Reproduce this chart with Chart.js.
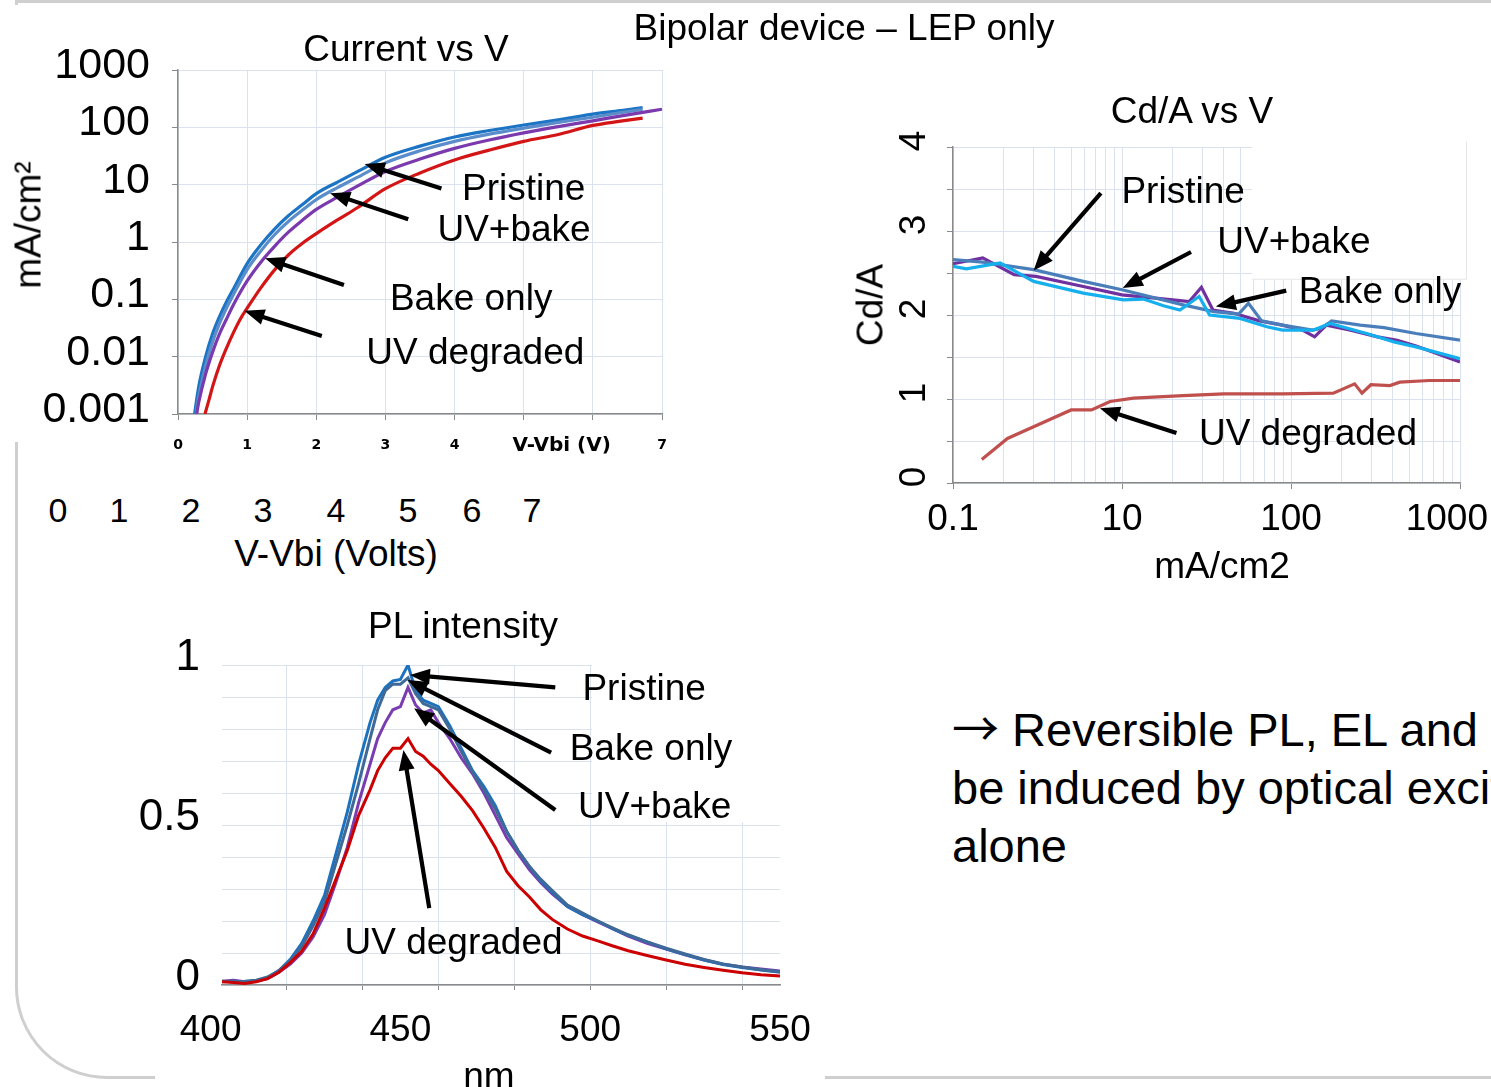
<!DOCTYPE html>
<html>
<head>
<meta charset="utf-8">
<title>Bipolar device – LEP only</title>
<script src="https://cdn.jsdelivr.net/npm/chart.js@4/dist/chart.umd.min.js"></script>
<style>
  html, body { margin: 0; padding: 0; background: #fff; }
  body { width: 1491px; height: 1087px; position: relative; overflow: hidden;
         font-family: 'Liberation Sans', Arial, sans-serif; color: #000; }
  .frame { position: absolute; left: 15px; top: 0; width: 1600px; height: 1073px;
           border: 3px solid #cfcfcf; border-radius: 0 0 0 92px; }
  .panel { position: absolute; background: #fff; }
  canvas { position: absolute; }
  .t { position: absolute; white-space: nowrap; line-height: 1; transform: translate(-50%, -50%); font-size: 37px; }
  .rot { transform: translate(-50%, -50%) rotate(-90deg); }
  .note { position: absolute; left: 952px; top: 697px; font-size: 47px; line-height: 58px; white-space: nowrap; }
  .note .arw { font-family: 'Noto Sans CJK JP', 'DejaVu Sans', sans-serif; }
</style>
</head>
<body>
<div class="frame"></div>
<div class="panel" style="left:0;top:5px;width:110px;height:437px"></div>
<div class="panel" style="left:155px;top:598px;width:670px;height:489px"></div>

<canvas id="ivChart" width="700" height="470" style="left:0;top:0"></canvas>
<canvas id="cdChart" width="651" height="470" style="left:840px;top:80px"></canvas>
<canvas id="plChart" width="705" height="487" style="left:120px;top:600px"></canvas>

<div class="t" style="left:844px;top:27px">Bipolar device – LEP only</div>

<div class="t" style="left:406px;top:48px">Current vs V</div>
<div class="t rot" style="left:28px;top:225px">mA/cm²</div>
<div id="voltsRow"></div>
<div class="t" style="left:336px;top:553px">V-Vbi (Volts)</div>

<div class="t" style="left:1192px;top:110px">Cd/A vs V</div>
<div class="t rot" style="left:870px;top:305px">Cd/A</div>
<div class="t" style="left:1222px;top:565px">mA/cm2</div>

<div class="t" style="left:463px;top:625px">PL intensity</div>
<div class="t" style="left:489px;top:1075px">nm</div>

<div class="note"><span class="arw">→</span> Reversible PL, EL and<br>be induced by optical excitation<br>alone</div>

<script>
// ---------- Current density vs V-Vbi (log scale) ----------
const ivPristineV = [0.24, 0.3, 0.4, 0.5, 0.6, 0.7, 0.8, 1.0, 1.2, 1.4, 1.6, 1.8, 2.0, 2.3, 2.6, 3.0, 3.5, 4.0, 4.5, 5.0, 5.5, 6.0, 6.4, 6.72];
const ivPristineJ = [0.001, 0.003, 0.01, 0.025, 0.05, 0.09, 0.15, 0.42, 0.9, 1.7, 2.9, 4.5, 7, 11, 17, 30, 47, 68, 88, 110, 135, 170, 195, 222];
const ivUvBakeV = [0.26, 0.3, 0.4, 0.5, 0.6, 0.7, 0.8, 1.0, 1.2, 1.4, 1.6, 1.8, 2.0, 2.3, 2.6, 3.0, 3.5, 4.0, 4.5, 5.0, 5.5, 6.0, 6.4, 6.72];
const ivUvBakeJ = [0.001, 0.002, 0.007, 0.018, 0.038, 0.07, 0.12, 0.33, 0.7, 1.35, 2.3, 3.6, 5.5, 8.8, 13.5, 24, 39, 57, 76, 97, 122, 150, 180, 205];
const ivBakeOnlyV = [0.27, 0.3, 0.4, 0.5, 0.6, 0.7, 0.8, 1.0, 1.2, 1.4, 1.6, 1.8, 2.0, 2.3, 2.6, 3.0, 3.5, 4.0, 4.5, 5.0, 5.5, 6.0, 6.5, 7.0];
const ivBakeOnlyJ = [0.001, 0.0016, 0.005, 0.012, 0.025, 0.045, 0.08, 0.21, 0.45, 0.85, 1.5, 2.4, 3.7, 6, 9.5, 17, 28, 43, 60, 80, 103, 130, 165, 207];
const ivUvDegradedV = [0.39, 0.45, 0.5, 0.6, 0.7, 0.8, 0.9, 1.0, 1.2, 1.4, 1.6, 1.8, 2.0, 2.3, 2.6, 3.0, 3.5, 4.0, 4.5, 5.0, 5.5, 6.0, 6.4, 6.72];
const ivUvDegradedJ = [0.001, 0.0018, 0.003, 0.007, 0.014, 0.026, 0.045, 0.07, 0.16, 0.33, 0.6, 0.95, 1.4, 2.4, 4, 8.5, 16, 27, 40, 57, 75, 108, 128, 145];
const ivDecades = [0.001, 0.01, 0.1, 1, 10, 100, 1000];
const ivDecadeLabels = ['0.001', '0.01', '0.1', '1', '10', '100', '1000'];
const ivXTickLabels = ['0', '1', '2', '3', '4', '', '', '7'];
const voltsRowLabels = ['0', '1', '2', '3', '4', '5', '6', '7'];

// ---------- Luminous efficiency vs current density ----------
const cdPristineJ = [1, 1.5, 3.0, 5.9, 10, 23, 35, 49, 56, 67, 89, 134, 150, 174, 257, 355, 550, 1000];
const cdPristineE = [2.66, 2.63, 2.54, 2.40, 2.30, 2.12, 2.04, 2.01, 2.14, 1.93, 1.88, 1.82, 1.84, 1.93, 1.88, 1.85, 1.78, 1.70];
const cdUvBakeJ = [1, 1.2, 1.9, 3.0, 5.9, 10.2, 13.4, 17.6, 22, 28.6, 33, 50, 72, 89, 135, 170, 280, 407, 550, 1000];
const cdUvBakeE = [2.58, 2.55, 2.62, 2.40, 2.26, 2.18, 2.19, 2.11, 2.06, 2.22, 2.00, 1.96, 1.86, 1.82, 1.82, 1.90, 1.78, 1.68, 1.62, 1.48];
const cdBakeOnlyJ = [1, 1.5, 2.3, 3.1, 5.9, 10, 20, 25, 29.5, 34.5, 46, 65, 89, 117, 138, 162, 225, 325, 425, 550, 1000];
const cdBakeOnlyE = [2.61, 2.68, 2.48, 2.46, 2.34, 2.24, 2.18, 2.16, 2.33, 2.06, 2.02, 1.93, 1.88, 1.82, 1.74, 1.88, 1.82, 1.74, 1.70, 1.63, 1.44];
const cdUvDegradedJ = [1.48, 2.1, 3.0, 5.0, 6.6, 8.5, 11.7, 23, 40, 89, 178, 238, 263, 297, 385, 440, 660, 1000];
const cdUvDegradedE = [0.28, 0.53, 0.67, 0.87, 0.87, 0.97, 1.01, 1.04, 1.06, 1.06, 1.07, 1.18, 1.07, 1.17, 1.16, 1.20, 1.22, 1.22];
const cdXTickValues = [1, 10, 100, 1000];
const cdXTickLabels = ['0.1', '10', '100', '1000'];
const cdYTickValues = [0, 1, 2, 3, 4];
const cdYTickLabels = ['0', '1', '2', '3', '4'];

// ---------- Photoluminescence spectra ----------
const plWavelength = [403, 406, 409, 412, 415, 418, 421, 424, 427, 430, 433, 436, 439, 442, 444, 446, 448, 450, 452, 454, 456, 458, 460, 463, 466, 469, 472, 475, 478, 481, 484, 487, 490, 494, 498, 502, 506, 510, 515, 520, 525, 530, 535, 540, 545, 550];
const plPristine = [0.01, 0.012, 0.01, 0.013, 0.022, 0.045, 0.08, 0.13, 0.2, 0.28, 0.41, 0.54, 0.69, 0.82, 0.89, 0.93, 0.95, 0.955, 1.0, 0.92, 0.89, 0.88, 0.87, 0.81, 0.74, 0.67, 0.62, 0.56, 0.48, 0.42, 0.37, 0.325, 0.29, 0.245, 0.22, 0.2, 0.175, 0.155, 0.135, 0.113, 0.095, 0.078, 0.064, 0.055, 0.047, 0.04];
const plBakeOnly = [0.012, 0.01, 0.012, 0.015, 0.025, 0.045, 0.075, 0.12, 0.185, 0.26, 0.38, 0.5, 0.63, 0.77, 0.86, 0.92, 0.94, 0.94, 0.96, 0.91, 0.88, 0.87, 0.86, 0.8, 0.73, 0.665, 0.61, 0.55, 0.48, 0.42, 0.37, 0.33, 0.295, 0.25, 0.225, 0.2, 0.178, 0.157, 0.135, 0.115, 0.097, 0.08, 0.066, 0.056, 0.048, 0.041];
const plUvBake = [0.012, 0.015, 0.01, 0.012, 0.02, 0.04, 0.065, 0.1, 0.15, 0.22, 0.32, 0.43, 0.57, 0.69, 0.77, 0.82, 0.86, 0.87, 0.93, 0.875, 0.85, 0.86, 0.82, 0.77, 0.71, 0.66, 0.6, 0.53, 0.46, 0.41, 0.36, 0.32, 0.285, 0.245, 0.22, 0.197, 0.175, 0.153, 0.13, 0.112, 0.094, 0.078, 0.065, 0.056, 0.05, 0.044];
const plUvDegraded = [0.01, 0.008, 0.005, 0.01, 0.02, 0.04, 0.07, 0.105, 0.16, 0.24, 0.33, 0.42, 0.53, 0.61, 0.67, 0.71, 0.74, 0.74, 0.77, 0.73, 0.715, 0.69, 0.67, 0.63, 0.59, 0.545, 0.49, 0.43, 0.355, 0.31, 0.275, 0.235, 0.205, 0.175, 0.153, 0.138, 0.122, 0.107, 0.092, 0.078, 0.065, 0.055, 0.046, 0.038, 0.032, 0.028];
const plXTickValues = [400, 450, 500, 550];
const plXTickLabels = ['400', '450', '500', '550'];
const plYTickValues = [0, 0.5, 1];
const plYTickLabels = ['0', '0.5', '1'];

// ---------- shared styling ----------
const FONT = "'Liberation Sans', Arial, sans-serif";
const TEXT = `37px ${FONT}`;
const GRID = '#D9E2EE';
const AXIS = '#8A8A8A';
Chart.defaults.font.family = FONT;
Chart.defaults.color = '#000';

// the stray volt numbers printed under the I-V plot
(function () {
  const xs = [58, 119, 191, 263, 336, 408, 472, 532];
  const row = document.getElementById('voltsRow');
  voltsRowLabels.forEach((txt, i) => {
    const d = document.createElement('div');
    d.className = 't';
    d.style.cssText = `left:${xs[i]}px;top:510px;font-size:34px`;
    d.textContent = txt;
    row.appendChild(d);
  });
})();

// fixes the plot rectangle inside a canvas
function frameLayout(W, H, a) {
  return {
    padding: { left: 0, top: a.top, right: W - a.right, bottom: 0 },
    yFit: s => { s.width = a.left; s.paddingTop = 0; s.paddingBottom = 0; },
    xFit: s => { s.height = H - a.bottom; s.paddingLeft = 0; s.paddingRight = 0; }
  };
}

function xy(xs, ys) { return xs.map((x, i) => ({ x, y: ys[i] })); }

function line(label, data, color, width, smooth) {
  return {
    label, data, borderColor: color, backgroundColor: color, borderWidth: width,
    pointRadius: 0, fill: false,
    tension: 0, cubicInterpolationMode: smooth ? 'monotone' : 'default'
  };
}

function drawArrow(ctx, x0, y0, x1, y1) {
  const ang = Math.atan2(y1 - y0, x1 - x0);
  const hl = 20, hw = 8;
  const c = Math.cos(ang), s = Math.sin(ang);
  const bx = x1 - hl * c, by = y1 - hl * s;
  ctx.strokeStyle = '#000';
  ctx.lineWidth = 4.2;
  ctx.beginPath();
  ctx.moveTo(x0, y0);
  ctx.lineTo(bx + 2 * c, by + 2 * s);
  ctx.stroke();
  ctx.fillStyle = '#000';
  ctx.beginPath();
  ctx.moveTo(x1, y1);
  ctx.lineTo(bx - hw * s, by + hw * c);
  ctx.lineTo(bx + hw * s, by - hw * c);
  ctx.closePath();
  ctx.fill();
}

// callout arrows, series names, hand-placed axis numbers and text-box backgrounds
const notes = {
  id: 'notes',
  beforeDatasetsDraw(chart, args, o) {
    const b = o.blank;
    if (!b) return;
    const sx = chart.scales.x, sy = chart.scales.y, ctx = chart.ctx;
    const l = sx.getPixelForValue(b.x0), r = sx.getPixelForValue(b.x1);
    const t = sy.getPixelForValue(b.y1), bt = sy.getPixelForValue(b.y0);
    ctx.save();
    ctx.fillStyle = '#fff';
    ctx.fillRect(l, t, r - l, bt - t);
    if (b.edge) {
      ctx.strokeStyle = b.edge;
      ctx.lineWidth = 1;
      ctx.beginPath();
      ctx.moveTo(r - 0.5, t);
      ctx.lineTo(r - 0.5, bt - 0.5);
      ctx.lineTo(l, bt - 0.5);
      ctx.stroke();
    }
    ctx.restore();
  },
  afterDatasetsDraw(chart, args, o) {
    const ctx = chart.ctx, sx = chart.scales.x, sy = chart.scales.y;
    const X = v => sx.getPixelForValue(v), Y = v => sy.getPixelForValue(v);
    ctx.save();
    (o.arrows || []).forEach(a => drawArrow(ctx, X(a.from[0]), Y(a.from[1]), X(a.to[0]), Y(a.to[1])));
    ctx.fillStyle = '#000';
    ctx.textAlign = 'center';
    ctx.textBaseline = 'middle';
    ctx.font = o.labelFont || TEXT;
    (o.labels || []).forEach(l => ctx.fillText(l.text, X(l.at[0]), Y(l.at[1])));
    (o.xTexts || []).forEach(t => {
      ctx.font = t.font;
      const w = ctx.measureText(t.text).width;
      const x = Math.min(X(t.value), chart.width - 3 - w / 2);
      ctx.fillText(t.text, x, chart.chartArea.bottom + t.below);
    });
    (o.yTexts || []).forEach(t => {
      ctx.save();
      ctx.font = t.font;
      ctx.translate(chart.chartArea.left - t.left, Y(t.value) + t.shift);
      ctx.rotate(-Math.PI / 2);
      ctx.fillText(t.text, 0, 0);
      ctx.restore();
    });
    ctx.restore();
  }
};

const base = {
  responsive: false, animation: false, devicePixelRatio: 1,
  events: [],
  elements: { point: { radius: 0 } }
};

// ---------- Current vs V ----------
const f1 = frameLayout(700, 470, { left: 178, top: 70, right: 662, bottom: 414 });
new Chart(document.getElementById('ivChart'), {
  type: 'line',
  data: {
    datasets: [
      line('UV degraded', xy(ivUvDegradedV, ivUvDegradedJ), '#D41515', 3.2, true),
      line('Bake only', xy(ivBakeOnlyV, ivBakeOnlyJ), '#7A3AAE', 3.2, true),
      line('UV+bake', xy(ivUvBakeV, ivUvBakeJ), '#5B8DCA', 3.2, true),
      line('Pristine', xy(ivPristineV, ivPristineJ), '#1C74C4', 3.2, true)
    ]
  },
  options: {
    ...base,
    layout: { padding: f1.padding },
    plugins: {
      legend: { display: false }, tooltip: { enabled: false },
      notes: {
        arrows: [
          { from: [3.81, 8.6], to: [2.7, 23] },
          { from: [3.33, 2.5], to: [2.2, 7.1] },
          { from: [2.4, 0.178], to: [1.26, 0.52] },
          { from: [2.08, 0.023], to: [0.96, 0.063] }
        ],
        labels: [
          { text: 'Pristine', at: [5.0, 8.07] },
          { text: 'UV+bake', at: [4.86, 1.56] },
          { text: 'Bake only', at: [4.24, 0.0973] },
          { text: 'UV degraded', at: [4.30, 0.0111] }
        ],
        xTexts: [{ text: 'V-Vbi (V)', value: 5.55, below: 32, font: `bold 20px 'DejaVu Sans', sans-serif` }]
      }
    },
    scales: {
      x: {
        type: 'linear', min: 0, max: 7, afterFit: f1.xFit,
        ticks: {
          stepSize: 1, autoSkip: false, maxRotation: 0, padding: 17,
          font: { family: "'DejaVu Sans', sans-serif", weight: 'bold', size: 14 },
          callback: (v, i) => ivXTickLabels[i]
        },
        grid: { color: GRID, tickColor: AXIS, tickLength: 6 },
        border: { color: AXIS, width: 1.5 }
      },
      y: {
        type: 'logarithmic', min: 0.001, max: 1000, afterFit: f1.yFit,
        afterBuildTicks: s => { s.ticks = ivDecades.map(v => ({ value: v })); },
        ticks: { autoSkip: false, padding: 22, labelOffset: -4, font: { size: 43 },
                 callback: (v, i) => ivDecadeLabels[i] },
        grid: { color: GRID, tickColor: AXIS, tickLength: 6 },
        border: { color: AXIS, width: 1.5 }
      }
    }
  },
  plugins: [notes]
});

// ---------- Cd/A vs V ----------
const f2 = frameLayout(651, 470, { left: 113, top: 67, right: 620, bottom: 403 });
const cdGrid = [];
[1, 10, 100].forEach(d => { for (let k = 1; k <= 9; k++) cdGrid.push({ value: k * d, major: k === 1 }); });
cdGrid.push({ value: 1000, major: true });
new Chart(document.getElementById('cdChart'), {
  type: 'line',
  data: {
    datasets: [
      line('UV degraded', xy(cdUvDegradedJ, cdUvDegradedE), '#C0504D', 3.2, false),
      line('UV+bake', xy(cdUvBakeJ, cdUvBakeE), '#14AFEC', 3.2, false),
      line('Pristine', xy(cdPristineJ, cdPristineE), '#4A7EBB', 3.2, false),
      line('Bake only', xy(cdBakeOnlyJ, cdBakeOnlyE), '#7030A0', 3.2, false)
    ]
  },
  options: {
    ...base,
    layout: { padding: f2.padding },
    plugins: {
      legend: { display: false }, tooltip: { enabled: false },
      notes: {
        blank: { x0: 58.8, x1: 1100, y0: 2.42, y1: 4.06, edge: '#E6E6E6' },
        arrows: [
          { from: [7.5, 3.45], to: [3.0, 2.53] },
          { from: [25.6, 2.75], to: [10.1, 2.32] },
          { from: [93.7, 2.29], to: [35.9, 2.10] },
          { from: [21, 0.594], to: [7.4, 0.89] }
        ],
        labels: [
          { text: 'Pristine', at: [23, 3.45] },
          { text: 'UV+bake', at: [104, 2.86] },
          { text: 'Bake only', at: [336, 2.27] },
          { text: 'UV degraded', at: [126, 0.57] }
        ],
        xTexts: cdXTickValues.map((v, i) => ({ text: cdXTickLabels[i], value: v, below: 37, font: TEXT })),
        yTexts: cdYTickValues.map((v, i) => ({ text: cdYTickLabels[i], value: v, left: 38, shift: -6, font: TEXT }))
      }
    },
    scales: {
      x: {
        type: 'logarithmic', min: 1, max: 1000, afterFit: f2.xFit,
        afterBuildTicks: s => { s.ticks = cdGrid.map(t => ({ ...t })); },
        ticks: { display: false, autoSkip: false },
        grid: { color: GRID, tickLength: 6,
                tickColor: c => (c.tick && c.tick.major) ? AXIS : 'rgba(0,0,0,0)' },
        border: { color: AXIS, width: 1.5 }
      },
      y: {
        type: 'linear', min: 0, max: 4, afterFit: f2.yFit,
        ticks: { display: false, stepSize: 0.5 },
        grid: { color: GRID, tickColor: AXIS, tickLength: 6 },
        border: { color: AXIS, width: 1.5 }
      }
    }
  },
  plugins: [notes]
});

// ---------- PL intensity ----------
const f3 = frameLayout(705, 487, { left: 102, top: 65, right: 660, bottom: 385 });
new Chart(document.getElementById('plChart'), {
  type: 'line',
  data: {
    datasets: [
      line('UV degraded', xy(plWavelength, plUvDegraded), '#CC0000', 3, false),
      line('Bake only', xy(plWavelength, plBakeOnly), '#3F6A98', 3, false),
      line('Pristine', xy(plWavelength, plPristine), '#1D72BE', 3, false),
      line('UV+bake', xy(plWavelength, plUvBake), '#7A3DB0', 3, false)
    ]
  },
  options: {
    ...base,
    layout: { padding: f3.padding },
    plugins: {
      legend: { display: false }, tooltip: { enabled: false },
      notes: {
        blank: { x0: 500.5, x1: 563, y0: 0.51, y1: 1.02 },
        arrows: [
          { from: [490.8, 0.93], to: [452.5, 0.969] },
          { from: [489.7, 0.726], to: [451.9, 0.953] },
          { from: [490.8, 0.547], to: [453.6, 0.865] },
          { from: [457.6, 0.24], to: [450.8, 0.734] }
        ],
        labels: [
          { text: 'Pristine', at: [514.2, 0.922] },
          { text: 'Bake only', at: [516, 0.734] },
          { text: 'UV+bake', at: [517, 0.553] },
          { text: 'UV degraded', at: [464, 0.128] }
        ],
        xTexts: plXTickValues.map((v, i) => ({ text: plXTickLabels[i], value: v, below: 46, font: TEXT }))
      }
    },
    scales: {
      x: {
        type: 'linear', min: 403, max: 550, afterFit: f3.xFit,
        afterBuildTicks: s => { s.ticks = [420, 440, 460, 480, 500, 520, 540].map(v => ({ value: v })); },
        ticks: { display: false, autoSkip: false },
        grid: { color: GRID, tickColor: AXIS, tickLength: 5 },
        border: { color: AXIS, width: 1.5 }
      },
      y: {
        type: 'linear', min: 0, max: 1, afterFit: f3.yFit,
        ticks: {
          stepSize: 0.1, autoSkip: false, padding: 22, labelOffset: -7, font: { size: 44 },
          callback: v => {
            const i = plYTickValues.findIndex(t => Math.abs(t - v) < 1e-9);
            return i >= 0 ? plYTickLabels[i] : '';
          }
        },
        grid: { color: GRID, drawTicks: false },
        border: { display: false }
      }
    }
  },
  plugins: [notes]
});
</script>
</body>
</html>
